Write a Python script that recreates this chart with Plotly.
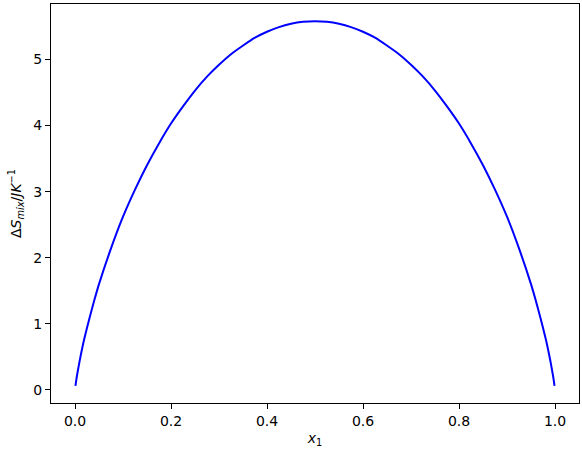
import plotly.graph_objects as go

# mole fraction of component 1 and the read-off entropy of mixing
x1 = [0.001, 0.0025, 0.005, 0.01, 0.015, 0.02, 0.03, 0.04, 0.05, 0.075, 0.1, 0.125, 0.15, 0.175,
      0.2, 0.225, 0.25, 0.275, 0.3, 0.325, 0.35, 0.375, 0.4, 0.425, 0.45, 0.475,
      0.5, 0.525, 0.55, 0.575, 0.6, 0.625, 0.65, 0.675, 0.7, 0.725, 0.75, 0.775, 0.8,
      0.825, 0.85, 0.875, 0.9, 0.925, 0.95, 0.96, 0.97, 0.98, 0.985, 0.99, 0.995, 0.9975, 0.999]
ds_mix = [0.06, 0.14, 0.25, 0.45, 0.63, 0.79, 1.08, 1.35, 1.60, 2.14, 2.62, 3.03, 3.40, 3.73,
          4.03, 4.29, 4.53, 4.74, 4.92, 5.08, 5.21, 5.33, 5.42, 5.49, 5.54, 5.57,
          5.58, 5.57, 5.54, 5.49, 5.42, 5.33, 5.21, 5.08, 4.92, 4.74, 4.53, 4.29, 4.03,
          3.73, 3.40, 3.03, 2.62, 2.14, 1.60, 1.35, 1.08, 0.79, 0.63, 0.45, 0.25, 0.14, 0.06]

x_ticks = [0.0, 0.2, 0.4, 0.6, 0.8, 1.0]
y_ticks = [0, 1, 2, 3, 4, 5]

fig = go.Figure()
fig.add_scatter(
    x=x1,
    y=ds_mix,
    mode="lines",
    line={"color": "#0000ff", "width": 2, "shape": "spline", "smoothing": 0.8},
    showlegend=False,
)

axis_style = {
    "showgrid": False,
    "zeroline": False,
    "showline": True,
    "mirror": True,
    "linecolor": "black",
    "linewidth": 1,
    "ticks": "outside",
    "ticklen": 5,
    "tickwidth": 1,
    "tickcolor": "black",
    "tickfont": {"size": 14, "color": "black"},
    "automargin": False,
}

fig.update_layout(
    width=582,
    height=450,
    margin={"l": 51, "r": 3, "t": 4, "b": 47},
    paper_bgcolor="white",
    plot_bgcolor="white",
    font={"family": "DejaVu Sans", "color": "black"},
    xaxis={
        **axis_style,
        "range": [-0.05, 1.05],
        "tickvals": x_ticks,
        "tickformat": ".1f",
        "title": {"text": "<i>x</i><sub>1</sub>", "font": {"size": 14}, "standoff": 5},
    },
    yaxis={
        **axis_style,
        "range": [-0.2, 5.84],
        "tickvals": y_ticks,
        "title": {
            "text": "Δ<i>S</i><sub><i>mix</i></sub>/<i>JK</i><sup>−1</sup>",
            "font": {"size": 14},
            "standoff": 8,
        },
    },
)

# drop the browser's default body margin so the 582x450 figure fits the window exactly
fig.write_html(
    "out.html",
    config={"responsive": False, "displayModeBar": False},
    default_width="582px",
    default_height="450px",
    post_script="document.body.style.margin='0px';document.body.style.overflow='hidden';",
)
